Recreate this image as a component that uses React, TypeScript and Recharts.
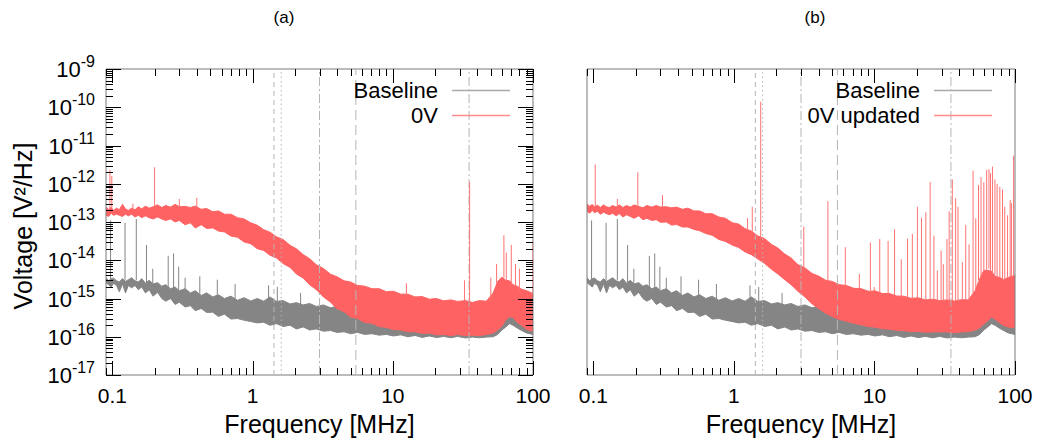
import React from 'react';
import {
  ComposedChart,
  Area,
  Line,
  XAxis,
  YAxis,
  ReferenceLine,
  ReferenceArea,
  Legend,
} from 'recharts';

const FONT = '"Liberation Sans", Arial, Helvetica, sans-serif';

const freqGrid = [
  0.09, 0.094, 0.098, 0.102, 0.107, 0.112, 0.118, 0.124, 0.13, 0.137,
  0.145, 0.153, 0.162, 0.172, 0.183, 0.195, 0.21, 0.225, 0.24, 0.26,
  0.28, 0.3, 0.33, 0.36, 0.39, 0.43, 0.47, 0.52, 0.57, 0.63,
  0.7, 0.78, 0.87, 0.97, 1.08, 1.2, 1.33, 1.48, 1.65, 1.85,
  2.05, 2.3, 2.55, 2.85, 3.2, 3.6, 4.0, 4.5, 5.0, 5.6,
  6.3, 7.1, 8.0, 9.0, 10.1, 11.4, 12.8, 14.4, 16.2, 18.2,
  20.5, 23, 26, 29, 33, 37, 41.5, 46.5, 52, 56,
  60, 64, 68, 72, 77, 83, 90, 100,
];

// Baseline (grey) envelope, same in both panels
const baselineLow = [
  2.6e-15, 2.3e-15, 2.0e-15, 2.5e-15, 2.2e-15, 1.5e-15, 2.4e-15, 1.4e-15, 2.2e-15, 1.9e-15,
  2.2e-15, 1.7e-15, 2.0e-15, 1.4e-15, 1.7e-15, 1.15e-15, 1.45e-15, 1.0e-15, 8.5e-16, 1.0e-15,
  7.0e-16, 8.0e-16, 6.0e-16, 6.5e-16, 4.8e-16, 5.5e-16, 4.3e-16, 4.4e-16, 3.4e-16, 3.9e-16,
  2.9e-16, 3.0e-16, 2.7e-16, 2.5e-16, 2.3e-16, 2.4e-16, 2.0e-16, 2.2e-16, 1.85e-16, 2.0e-16,
  1.6e-16, 1.8e-16, 1.5e-16, 1.6e-16, 1.4e-16, 1.45e-16, 1.3e-16, 1.35e-16, 1.2e-16, 1.3e-16,
  1.15e-16, 1.2e-16, 1.1e-16, 1.15e-16, 1.05e-16, 1.12e-16, 1.0e-16, 1.08e-16, 9.6e-17, 1.05e-16,
  9.5e-17, 1.02e-16, 9.4e-17, 1.02e-16, 9.3e-17, 9.8e-17, 9.4e-17, 9.8e-17, 1.0e-16, 1.15e-16,
  1.5e-16, 1.8e-16, 2.2e-16, 2.0e-16, 1.7e-16, 1.45e-16, 1.25e-16, 1.15e-16,
];
const baselineHigh = [
  3.5e-15, 2.9e-15, 3.3e-15, 3.4e-15, 2.9e-15, 2.7e-15, 3.3e-15, 2.8e-15, 3.1e-15, 3.5e-15,
  2.9e-15, 2.7e-15, 3.3e-15, 2.5e-15, 3.0e-15, 2.4e-15, 2.6e-15, 2.1e-15, 2.3e-15, 1.8e-15,
  2.0e-15, 1.6e-15, 1.8e-15, 1.4e-15, 1.6e-15, 1.2e-15, 1.4e-15, 1.1e-15, 1.25e-15, 1.0e-15,
  1.15e-15, 9.0e-16, 1.05e-15, 8.6e-16, 1.0e-15, 8.5e-16, 1.1e-15, 8.4e-16, 8.8e-16, 7.2e-16,
  7.8e-16, 6.8e-16, 7.4e-16, 6.2e-16, 6.8e-16, 5.7e-16, 6.3e-16, 5.3e-16, 5.8e-16, 5.0e-16,
  5.3e-16, 4.6e-16, 4.9e-16, 4.2e-16, 4.5e-16, 3.9e-16, 4.3e-16, 3.7e-16, 4.0e-16, 3.6e-16,
  3.8e-16, 3.4e-16, 3.7e-16, 3.3e-16, 3.6e-16, 3.2e-16, 3.5e-16, 3.1e-16, 3.5e-16, 3.7e-16,
  4.4e-16, 4.8e-16, 5.6e-16, 4.9e-16, 4.3e-16, 3.5e-16, 3.4e-16, 2.9e-16,
];

// 0V (panel a) envelope
const zeroVLow = [
  1.5e-13, 1.4e-13, 1.7e-13, 1.5e-13, 1.6e-13, 1.5e-13, 1.4e-13, 1.6e-13, 1.45e-13, 1.6e-13,
  1.35e-13, 1.5e-13, 1.3e-13, 1.45e-13, 1.3e-13, 1.2e-13, 1.35e-13, 1.2e-13, 1.1e-13, 1.2e-13,
  1.0e-13, 1.1e-13, 8.5e-14, 9.5e-14, 7.0e-14, 8.5e-14, 6.8e-14, 7.0e-14, 5.8e-14, 5.5e-14,
  4.3e-14, 4.0e-14, 3.0e-14, 2.7e-14, 2.0e-14, 1.8e-14, 1.35e-14, 1.15e-14, 8.2e-15, 6.5e-15,
  4.4e-15, 3.4e-15, 2.3e-15, 1.7e-15, 1.1e-15, 8.0e-16, 5.4e-16, 4.5e-16, 3.3e-16, 3.0e-16,
  2.35e-16, 2.25e-16, 1.85e-16, 1.75e-16, 1.55e-16, 1.5e-16, 1.35e-16, 1.35e-16, 1.22e-16, 1.25e-16,
  1.12e-16, 1.15e-16, 1.07e-16, 1.15e-16, 1.07e-16, 1.1e-16, 1.07e-16, 1.15e-16, 1.25e-16, 1.5e-16,
  1.9e-16, 2.8e-16, 3.3e-16, 3.2e-16, 2.4e-16, 2.0e-16, 1.55e-16, 1.4e-16,
];
const zeroVHigh = [
  2.5e-13, 2.1e-13, 2.4e-13, 2.0e-13, 2.3e-13, 2.1e-13, 2.9e-13, 2.2e-13, 2.0e-13, 2.3e-13,
  2.1e-13, 2.5e-13, 2.2e-13, 2.6e-13, 2.3e-13, 2.5e-13, 2.8e-13, 2.4e-13, 2.7e-13, 2.45e-13,
  2.9e-13, 2.5e-13, 2.55e-13, 2.4e-13, 2.6e-13, 2.15e-13, 2.25e-13, 1.85e-13, 1.95e-13, 1.6e-13,
  1.6e-13, 1.3e-13, 1.2e-13, 9.5e-14, 8.2e-14, 6.3e-14, 5.4e-14, 4.1e-14, 3.5e-14, 2.45e-14,
  2.0e-14, 1.4e-14, 1.1e-14, 7.6e-15, 6.1e-15, 4.3e-15, 3.7e-15, 2.9e-15, 2.7e-15, 2.2e-15,
  2.1e-15, 1.8e-15, 1.8e-15, 1.5e-15, 1.55e-15, 1.3e-15, 1.3e-15, 1.1e-15, 1.12e-15, 9.6e-16,
  1.0e-15, 8.7e-16, 9.2e-16, 8.4e-16, 8.8e-16, 7.9e-16, 8.8e-16, 8.5e-16, 1.4e-15, 2.8e-15,
  3.6e-15, 3.0e-15, 2.9e-15, 2.3e-15, 2.1e-15, 1.75e-15, 1.6e-15, 1.35e-15,
];

// 0V updated (panel b) envelope
const updatedLow = [
  1.9e-13, 1.7e-13, 2.0e-13, 1.75e-13, 1.9e-13, 1.6e-13, 1.8e-13, 1.65e-13, 1.55e-13, 1.7e-13,
  1.45e-13, 1.65e-13, 1.35e-13, 1.55e-13, 1.4e-13, 1.25e-13, 1.45e-13, 1.15e-13, 1.25e-13, 1.1e-13,
  1.15e-13, 9.8e-14, 1.0e-13, 8.3e-14, 8.6e-14, 7.4e-14, 7.4e-14, 6.4e-14, 5.9e-14, 5.0e-14,
  4.5e-14, 3.5e-14, 3.1e-14, 2.5e-14, 2.15e-14, 1.65e-14, 1.4e-14, 1.08e-14, 8.3e-15, 5.8e-15,
  4.4e-15, 3.1e-15, 2.3e-15, 1.55e-15, 1.1e-15, 7.2e-16, 5.5e-16, 4.1e-16, 3.4e-16, 2.85e-16,
  2.55e-16, 2.25e-16, 2.05e-16, 1.85e-16, 1.78e-16, 1.62e-16, 1.58e-16, 1.47e-16, 1.44e-16, 1.37e-16,
  1.38e-16, 1.32e-16, 1.34e-16, 1.34e-16, 1.34e-16, 1.27e-16, 1.34e-16, 1.35e-16, 1.5e-16, 1.7e-16,
  2.2e-16, 2.6e-16, 3.3e-16, 2.9e-16, 2.4e-16, 1.95e-16, 1.8e-16, 1.7e-16,
];
const updatedHigh = [
  2.9e-13, 2.6e-13, 2.85e-13, 2.5e-13, 2.75e-13, 2.4e-13, 2.8e-13, 2.5e-13, 2.4e-13, 2.7e-13,
  2.45e-13, 2.8e-13, 2.4e-13, 2.7e-13, 2.45e-13, 2.8e-13, 2.55e-13, 2.35e-13, 2.7e-13, 2.45e-13,
  2.7e-13, 2.45e-13, 2.5e-13, 2.35e-13, 2.45e-13, 2.15e-13, 2.3e-13, 1.95e-13, 1.95e-13, 1.65e-13,
  1.65e-13, 1.35e-13, 1.25e-13, 9.6e-14, 8.8e-14, 6.7e-14, 5.8e-14, 4.3e-14, 3.7e-14, 2.6e-14,
  2.1e-14, 1.45e-14, 1.15e-14, 7.7e-15, 6.3e-15, 4.5e-15, 3.85e-15, 3.0e-15, 2.8e-15, 2.3e-15,
  2.2e-15, 1.85e-15, 1.82e-15, 1.55e-15, 1.58e-15, 1.35e-15, 1.35e-15, 1.16e-15, 1.15e-15, 1.01e-15,
  1.04e-15, 9.2e-16, 9.6e-16, 8.8e-16, 9.2e-16, 8.6e-16, 9.3e-16, 9.2e-16, 1.6e-15, 3.2e-15,
  5.5e-15, 5.4e-15, 5.2e-15, 3.8e-15, 3.6e-15, 3.1e-15, 3.6e-15, 4.0e-15,
];

// Narrow spectral lines: frequency, where the line leaves the noise, peak
const baselineSpikeFreq = [0.097, 0.123, 0.148, 0.175, 0.194, 0.25, 0.273, 0.297, 0.33, 0.42, 0.56, 0.75, 1.3, 1.5, 2.2];
const baselineSpikeBase = [3e-15, 3e-15, 3e-15, 2.5e-15, 2.2e-15, 1.9e-15, 1.8e-15, 1.6e-15, 1.5e-15, 1.2e-15, 1.1e-15, 9e-16, 9e-16, 8.5e-16, 7e-16];
const baselineSpikeTop = [1.1e-13, 9.5e-14, 1.2e-13, 2.5e-14, 6e-15, 1.3e-14, 1.5e-14, 6.8e-15, 3.5e-15, 3.8e-15, 3.1e-15, 2.4e-15, 2.2e-15, 2.0e-15, 1.4e-15];

const zeroVSpikeFreq = [0.096, 0.099, 0.14, 0.2, 0.3, 0.4, 12.5, 32.5, 35.3, 50, 55, 62, 64.5, 70, 75, 80, 100];
const zeroVSpikeBase = [2.2e-13, 2.2e-13, 2.3e-13, 2.4e-13, 2.5e-13, 2.2e-13, 1.1e-15, 8e-16, 8e-16, 8.5e-16, 2.5e-15, 3.5e-15, 3e-15, 2.2e-15, 2e-15, 1.6e-15, 1.3e-15];
const zeroVSpikeTop = [2.3e-12, 1.6e-12, 3.0e-13, 2.7e-12, 4.0e-13, 4.3e-13, 2.5e-15, 3.0e-15, 1.1e-12, 3.5e-15, 8e-15, 4.5e-14, 1.6e-14, 2.5e-14, 8e-15, 6e-15, 3e-14];

const updatedSpikeFreq = [
  0.103, 0.148, 0.207, 0.31, 1.25, 1.35, 1.55, 3.14, 4.66, 6.2,
  7.8, 9.35, 9.96, 10.9, 12.5, 13.9, 15.5, 17.2, 18.6, 20.2,
  21.6, 23.2, 24.9, 26.5, 28, 29.8, 30.9, 32.8, 34, 35.8,
  37.8, 39.3, 42.2, 44.6, 47.1, 50.3, 52.6, 55, 57.3, 60,
  62.9, 65.3, 67, 69.2, 72, 74.6, 78, 81.5, 84.5, 88.5,
  92.4, 94.3, 97.7,
];
const updatedSpikeBase = [
  2.5e-13, 2.5e-13, 2.5e-13, 2.4e-13, 6e-14, 5e-14, 3.5e-14, 6e-15, 2.8e-15, 2.1e-15,
  1.8e-15, 1.6e-15, 1.5e-15, 1.4e-15, 1.3e-15, 1.2e-15, 1.1e-15, 1.05e-15, 1e-15, 1e-15,
  9.5e-16, 9.2e-16, 9.2e-16, 9e-16, 9e-16, 8.8e-16, 8.8e-16, 8.8e-16, 8.8e-16, 8.8e-16,
  8.8e-16, 8.8e-16, 9e-16, 9e-16, 9.5e-16, 1.2e-15, 1.5e-15, 3e-15, 3.5e-15, 5e-15,
  5.5e-15, 6e-15, 5e-15, 5e-15, 4e-15, 3.8e-15, 3.4e-15, 3.2e-15, 3.2e-15, 3.4e-15,
  3.6e-15, 3.8e-15, 4e-15,
];
const updatedSpikeTop = [
  3.2e-12, 4e-13, 2e-12, 5e-13, 1.26e-13, 2.5e-13, 1.4e-10, 7.6e-14, 3.5e-13, 2.2e-14,
  4.4e-15, 2.9e-14, 2e-15, 3.6e-14, 3.2e-14, 6.5e-14, 1.07e-14, 3.7e-14, 4.9e-14, 2.5e-13,
  1.3e-13, 1.8e-13, 1.1e-12, 4.4e-14, 5.4e-15, 1.8e-14, 7.9e-15, 3.6e-14, 1.9e-13, 1.3e-12,
  4.2e-13, 2.5e-13, 8.9e-15, 8.3e-14, 2.6e-14, 2.2e-12, 1.25e-13, 9.3e-13, 1.5e-12, 1.1e-12,
  2.3e-12, 2.4e-12, 1.9e-12, 2.8e-12, 1.3e-12, 9.8e-13, 8.3e-13, 7.1e-13, 2.5e-13, 1.5e-13,
  3.8e-13, 3.1e-13, 5.4e-12,
];

// Vertical marker lines (MHz) and their dash styles
const markerFreqs = [1.42, 1.6, 3.0, 5.45, 35];
const markerDash = ['5 4', '1.5 3', '9 3 2 3', '10 5', '9 3 2 3'];

const X_MIN = 0.09;
const X_MAX = 100;
const Y_MIN = 1e-17;
const Y_MAX = 1e-9;

const xTickValues = [
  0.09, 0.1, 0.2, 0.3, 0.4, 0.5, 0.6, 0.7, 0.8, 0.9,
  1, 2, 3, 4, 5, 6, 7, 8, 9,
  10, 20, 30, 40, 50, 60, 70, 80, 90, 100,
];
const xMajor = [0.1, 1, 10, 100];
const xMajorLabels = ['0.1', '1', '10', '100'];
const yExponents = [-17, -16, -15, -14, -13, -12, -11, -10, -9];
const yTickValues = yExponents.flatMap((e) =>
  e === -9 ? [1e-9] : [1, 2, 3, 4, 5, 6, 7, 8, 9].map((k) => parseFloat(`${k}e${e}`))
);

const PLOT_TOP = 69;
const PLOT_BOTTOM = 375;
const CHART_H = 441;

const RED = '#ff6262';
const RED_LINE = '#ff7272';
const GREY = '#858585';

const toBand = (lo: number[], hi: number[]) =>
  freqGrid.map((f, i) => ({ f, range: [lo[i], hi[i]] }));

const toSpikes = (fs: number[], base: number[], top: number[]) =>
  fs.flatMap((f, i) => [
    { f, v: base[i] },
    { f, v: top[i] },
    { f, v: null },
  ]);

const baselineBand = toBand(baselineLow, baselineHigh);
const baselineSpikes = toSpikes(baselineSpikeFreq, baselineSpikeBase, baselineSpikeTop);

const isMajorX = (v: number) => xMajor.some((m) => Math.abs(m - v) < 1e-9);
const isMajorY = (v: number) => {
  const lg = Math.log10(v);
  return Math.abs(lg - Math.round(lg)) < 1e-6;
};

const makeXTick = () => (props: any) => {
  const { x, payload } = props;
  const idx = xMajor.findIndex((m) => Math.abs(m - payload.value) < 1e-9);
  if (idx < 0) return <g />;
  return (
    <text x={x} y={PLOT_BOTTOM + 28} textAnchor="middle" fontFamily={FONT} fontSize={21} fill="#000">
      {xMajorLabels[idx]}
    </text>
  );
};

const makeYTick = (left: number) => (props: any) => {
  const { y, payload } = props;
  const v = payload.value as number;
  if (!isMajorY(v)) return <g />;
  const exp = Math.round(Math.log10(v));
  return (
    <text x={left - 11} y={y + 8} textAnchor="end" fontFamily={FONT} fontSize={22} fill="#000">
      10
      <tspan dy={-10} fontSize={16}>{`${exp}`}</tspan>
    </text>
  );
};

// Legend overlay: the two legend rows plus the gnuplot-style inward tick marks
interface OverlayProps {
  width: number;
  plotLeft: number;
  plotRight: number;
  labels: string[];
  withYTicks: boolean;
}

const LegendOverlay = ({ width, plotLeft, plotRight, labels, withYTicks }: OverlayProps) => {
  const colors = ['#a9a9a9', '#ff8c8c'];
  const textEnd = plotRight - 95;
  const xPos = (v: number) =>
    plotLeft + ((Math.log10(v) - Math.log10(X_MIN)) / Math.log10(X_MAX / X_MIN)) * (plotRight - plotLeft);
  const yPos = (v: number) =>
    PLOT_BOTTOM - ((Math.log10(v) - Math.log10(Y_MIN)) / 8) * (PLOT_BOTTOM - PLOT_TOP);

  return (
    <svg width={width} height={CHART_H} style={{ display: 'block', overflow: 'visible' }}>
      {xTickValues.map((v) => {
        const len = isMajorX(v) ? 14 : 7;
        const px = Math.round(xPos(v)) + 0.5;
        return (
          <g key={`xt-${v}`}>
            <line x1={px} x2={px} y1={PLOT_BOTTOM} y2={PLOT_BOTTOM - len} stroke="#000" strokeWidth={1} />
            <line x1={px} x2={px} y1={PLOT_TOP} y2={PLOT_TOP + len} stroke="#000" strokeWidth={1} />
          </g>
        );
      })}
      {withYTicks &&
        yTickValues.map((v) => {
          const len = isMajorY(v) ? 15 : 7;
          const py = Math.round(yPos(v)) + 0.5;
          return (
            <g key={`yt-${v}`}>
              <line x1={plotLeft} x2={plotLeft + len} y1={py} y2={py} stroke="#000" strokeWidth={1} />
              <line x1={plotRight} x2={plotRight - len} y1={py} y2={py} stroke="#000" strokeWidth={1} />
            </g>
          );
        })}
      {labels.map((lab, i) => (
        <g key={lab}>
          <text x={textEnd} y={98 + i * 25} textAnchor="end" fontFamily={FONT} fontSize={22} fill="#000">
            {lab}
          </text>
          <line
            x1={textEnd + 14}
            x2={textEnd + 72}
            y1={90.5 + i * 25}
            y2={90.5 + i * 25}
            stroke={colors[i]}
            strokeWidth={1.3}
          />
        </g>
      ))}
    </svg>
  );
};

interface PanelProps {
  width: number;
  plotLeft: number;
  plotRight: number;
  redLow: number[];
  redHigh: number[];
  spikeFreq: number[];
  spikeBase: number[];
  spikeTop: number[];
  redLabel: string;
  showYAxis: boolean;
}

const Panel: React.FC<PanelProps> = ({
  width,
  plotLeft,
  plotRight,
  redLow,
  redHigh,
  spikeFreq,
  spikeBase,
  spikeTop,
  redLabel,
  showYAxis,
}) => {
  const redBand = toBand(redLow, redHigh);
  const redSpikes = toSpikes(spikeFreq, spikeBase, spikeTop);
  const xCenter = (plotLeft + plotRight) / 2;

  return (
    <ComposedChart
      width={width}
      height={CHART_H}
      margin={{ top: PLOT_TOP, right: width - plotRight, bottom: 0, left: showYAxis ? 0 : plotLeft }}
    >
      <XAxis
        dataKey="f"
        type="number"
        scale="log"
        domain={[X_MIN, X_MAX]}
        allowDataOverflow
        ticks={xTickValues}
        interval={0}
        height={CHART_H - PLOT_BOTTOM}
        tickSize={0}
        tickMargin={0}
        axisLine={false}
        tickLine={false}
        tick={makeXTick()}
        label={{
          content: () => (
            <text x={xCenter} y={433} textAnchor="middle" fontFamily={FONT} fontSize={25} fill="#000">
              Frequency [MHz]
            </text>
          ),
        }}
      />
      {showYAxis ? (
        <YAxis
          type="number"
          scale="log"
          domain={[Y_MIN, Y_MAX]}
          allowDataOverflow
          ticks={yTickValues}
          interval={0}
          width={plotLeft}
          tickSize={0}
          tickMargin={0}
          axisLine={false}
          tickLine={false}
          tick={makeYTick(plotLeft)}
          label={{
            content: () => (
              <text
                x={23}
                y={226}
                transform="rotate(-90 23 226)"
                textAnchor="middle"
                dominantBaseline="central"
                fontFamily={FONT}
                fontSize={25}
                fill="#000"
              >
                Voltage [V²/Hz]
              </text>
            ),
          }}
        />
      ) : (
        <YAxis type="number" scale="log" domain={[Y_MIN, Y_MAX]} allowDataOverflow hide width={0} />
      )}

      {markerFreqs.map((f, i) => (
        <ReferenceLine key={`m-${i}`} x={f} stroke="#b4b4b4" strokeWidth={1} strokeDasharray={markerDash[i]} />
      ))}

      <Area
        data={baselineBand}
        dataKey="range"
        type="linear"
        stroke={GREY}
        strokeWidth={1}
        fill={GREY}
        fillOpacity={1}
        isAnimationActive={false}
      />
      <Line
        data={baselineSpikes}
        dataKey="v"
        type="linear"
        stroke={GREY}
        strokeWidth={1}
        dot={false}
        connectNulls={false}
        isAnimationActive={false}
      />
      <Area
        data={redBand}
        dataKey="range"
        type="linear"
        stroke={RED}
        strokeWidth={1}
        fill={RED}
        fillOpacity={1}
        isAnimationActive={false}
      />
      <Line
        data={redSpikes}
        dataKey="v"
        type="linear"
        stroke={RED_LINE}
        strokeWidth={1}
        dot={false}
        connectNulls={false}
        isAnimationActive={false}
      />

      <ReferenceArea
        x1={X_MIN}
        x2={X_MAX}
        y1={Y_MIN}
        y2={Y_MAX}
        fill="none"
        stroke="#7a7a7a"
        strokeWidth={1}
      />

      <Legend
        layout="horizontal"
        verticalAlign="middle"
        align="center"
        wrapperStyle={{ left: 0, top: 0, width, height: CHART_H, pointerEvents: 'none' }}
        content={() => (
          <LegendOverlay
            width={width}
            plotLeft={plotLeft}
            plotRight={plotRight}
            labels={['Baseline', redLabel]}
            withYTicks={showYAxis}
          />
        )}
      />
    </ComposedChart>
  );
};

const titleStyle = (cx: number): React.CSSProperties => ({
  position: 'absolute',
  left: cx - 30,
  top: 7,
  width: 60,
  textAlign: 'center',
  fontFamily: FONT,
  fontSize: 17,
  lineHeight: '22px',
  color: '#000',
});

export default function App() {
  return (
    <div
      style={{
        position: 'absolute',
        left: 0,
        top: 0,
        width: 1040,
        height: 441,
        background: '#fff',
        overflow: 'hidden',
      }}
    >
      <div style={titleStyle(284)}>(a)</div>
      <div style={titleStyle(815)}>(b)</div>
      <div style={{ position: 'absolute', left: 0, top: 0 }}>
        <Panel
          width={560}
          plotLeft={106}
          plotRight={533}
          redLow={zeroVLow}
          redHigh={zeroVHigh}
          spikeFreq={zeroVSpikeFreq}
          spikeBase={zeroVSpikeBase}
          spikeTop={zeroVSpikeTop}
          redLabel="0V"
          showYAxis
        />
      </div>
      <div style={{ position: 'absolute', left: 560, top: 0 }}>
        <Panel
          width={480}
          plotLeft={27}
          plotRight={455}
          redLow={updatedLow}
          redHigh={updatedHigh}
          spikeFreq={updatedSpikeFreq}
          spikeBase={updatedSpikeBase}
          spikeTop={updatedSpikeTop}
          redLabel="0V updated"
          showYAxis={false}
        />
      </div>
    </div>
  );
}
